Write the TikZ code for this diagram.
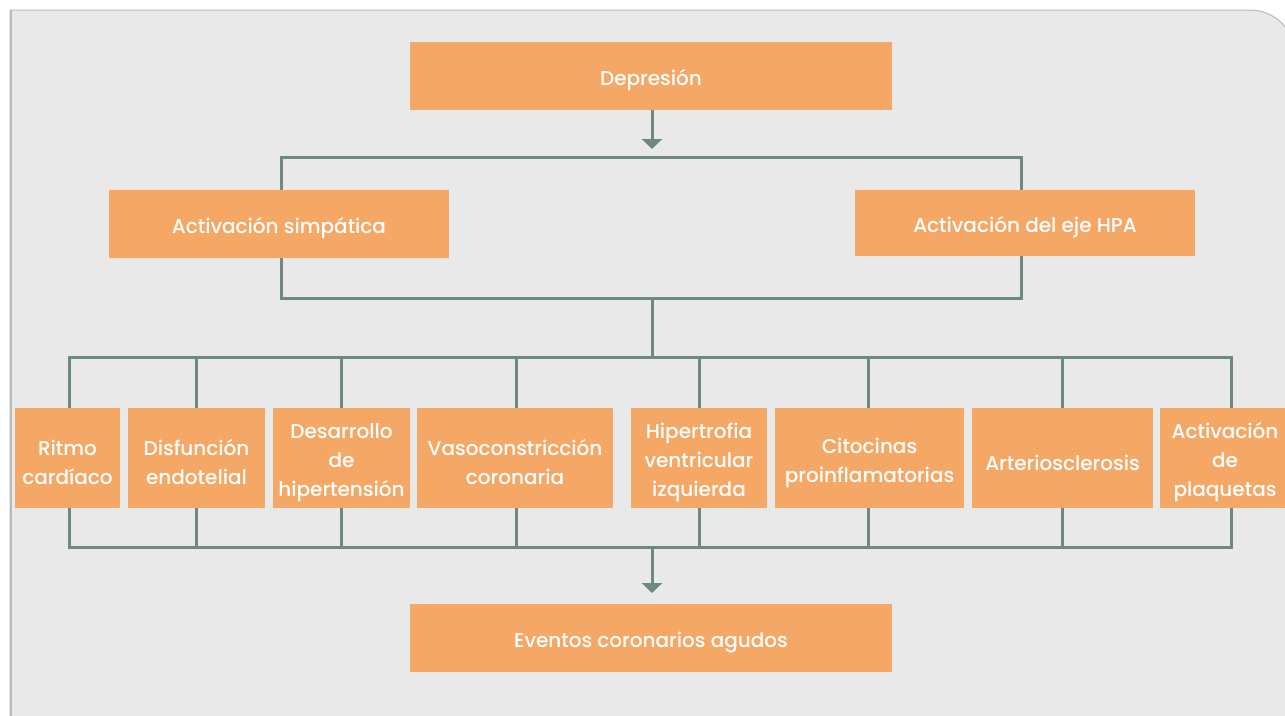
\documentclass[tikz,border=0pt]{standalone}
\usepackage{fontspec}
\setmainfont{Poppins}[UprightFont=* Medium]
\usetikzlibrary{arrows.meta}
\definecolor{panelfill}{HTML}{E8E9E8}
\definecolor{panelline}{HTML}{B3BCB8}
\definecolor{boxfill}{HTML}{F5A866}
\definecolor{linkcol}{HTML}{6E8980}
\tikzset{
  box/.style={fill=boxfill, inner sep=0pt},
  boxtext/.style={text=white, inner sep=0pt, align=center,
    font=\fontsize{20}{29}\selectfont},
  link/.style={draw=linkcol, line width=3pt, line join=miter},
  flowarrow/.style={link, -{Triangle[width=20pt,length=10pt]}}
}
% a filled box with its label set slightly below the geometric centre
\newcommand\flowbox[5]{%
  \node[box, minimum width=#3, minimum height=#4] (#1) at (#2) {};
  \node[boxtext] (#1-t) at ([yshift=-4.5pt]#1.center) {#5};}
\begin{document}
\begin{tikzpicture}[x=1pt,y=-1pt]
\useasboundingbox (0,0) rectangle (1285,715);
\clip (0,0) rectangle (1285,715);
% panel
\fill[panelfill] (10,740) -- (10,10) -- (1250,10) arc[start angle=90,end angle=0,radius=45pt] -- (1295,740) -- cycle;
\draw[panelline, line width=1pt] (10,740) -- (10,10) -- (1250,10) arc[start angle=90,end angle=0,radius=45pt] -- (1295,740);
\draw[panelline, line width=2pt] (10.5,740) -- (10.5,10);

% boxes
\flowbox{dep}{651,76}{482pt}{68pt}{Depresión}
\flowbox{simp}{279,224}{340pt}{68pt}{Activación simpática}
\flowbox{hpa}{1025,223}{340pt}{66pt}{Activación del eje HPA}

\flowbox{r1}{67.5,458}{105pt}{100pt}{Ritmo\\cardíaco}
\flowbox{r2}{196.5,458}{137pt}{100pt}{Disfunción\\endotelial}
\flowbox{r3}{341.5,458}{137pt}{100pt}{Desarrollo\\de\\hipertensión}
\flowbox{r4}{515,458}{196pt}{100pt}{Vasoconstricción\\coronaria}
\flowbox{r5}{699,458}{136pt}{100pt}{Hipertrofia\\ventricular\\izquierda}
\flowbox{r6}{869.5,458}{189pt}{100pt}{Citocinas\\proinflamatorias}
\flowbox{r7}{1062.5,458}{181pt}{100pt}{Arteriosclerosis}
\flowbox{r8}{1225,458}{130pt}{100pt}{Activación\\de\\plaquetas}

\flowbox{ev}{651,638}{482pt}{68pt}{Eventos coronarios agudos}

% junction points
\coordinate (a1) at (652,149);
\coordinate (tl) at (281,157);
\coordinate (tr) at (1021,157);
\coordinate (ml) at (281,298);
\coordinate (mr) at (1021,298);
\coordinate (mc) at (652,298);
\coordinate (lc) at (652,357);
\coordinate (b1) at (69,357);
\coordinate (b2) at (196,357);
\coordinate (b3) at (341,357);
\coordinate (b4) at (516,357);
\coordinate (b5) at (699,357);
\coordinate (b6) at (868,357);
\coordinate (b7) at (1062,357);
\coordinate (b8) at (1231,357);
\coordinate (d1) at (69,547);
\coordinate (d8) at (1231,547);
\coordinate (dc) at (652,547);
\coordinate (a2) at (652,593);

% upper part
\draw[flowarrow] (dep.south -| a1) -- (a1);
\draw[link] (simp.north -| tl) -- (tl) -- (tr) -- (hpa.north -| tr);
\draw[link] (simp.south -| ml) -- (ml) -- (mr) -- (hpa.south -| mr);
\draw[link] (mc) -- (lc);

% distribution bus
\draw[link] (r1.north -| b1) -- (b1) -- (b8) -- (r8.north -| b8);
\foreach \i in {2,...,7} \draw[link] (b\i) -- (r\i.north -| b\i);

% collection bus
\draw[link] (r1.south -| d1) -- (d1) -- (d8) -- (r8.south -| d8);
\foreach \i in {2,...,7} \draw[link] (r\i.south -| b\i) -- (b\i |- dc);
\draw[flowarrow] (dc) -- (a2);
\end{tikzpicture}
\end{document}
